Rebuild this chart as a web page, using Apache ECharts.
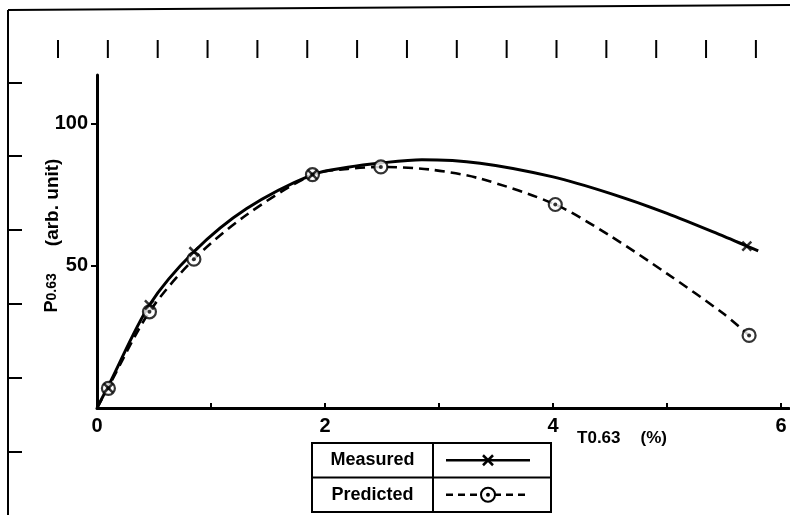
<!DOCTYPE html>
<html>
<head>
<meta charset="utf-8">
<script src="https://cdn.jsdelivr.net/npm/echarts@6/dist/echarts.min.js"></script>
<style>
  html, body { margin: 0; padding: 0; background: #fff; }
  #chart { width: 790px; height: 515px; }
</style>
</head>
<body>
<div id="chart"></div>
<script>
// Measured points (x marks) and the measured fitted curve
const measuredPoints = [[0.10, 7.0], [0.46, 36.2], [0.85, 54.9], [1.89, 82.0], [5.70, 56.9]];
const measuredCurve = [
  [0, 0], [0.10, 7.8], [0.46, 36.2], [0.85, 54.9], [1.31, 70.0],
  [1.89, 82.0], [2.20, 84.6], [2.49, 86.1], [2.85, 87.2], [3.36, 86.0], [4.00, 81.2], [4.50, 75.4],
  [5.00, 68.4], [5.50, 60.3], [5.70, 56.9], [5.80, 55.2]
];
// Predicted points (dotted circles) and the predicted curve
const predictedPoints = [[0.10, 6.9], [0.46, 33.8], [0.85, 52.3], [1.89, 82.0], [2.49, 84.7], [4.02, 71.5], [5.72, 25.5]];
const predictedCurve = [
  [0, 0], [0.10, 7.4], [0.46, 33.8], [0.85, 52.3], [1.31, 67.8],
  [1.89, 82.0], [2.20, 84.0], [2.49, 84.7], [2.92, 83.8], [3.36, 80.6], [4.02, 71.5], [4.50, 60.5],
  [5.00, 47.2], [5.50, 33.0], [5.72, 25.5]
];
// Axis ticks and labels
const xTickValues = [1, 2, 3, 4, 5, 6];
const xLabelValues = [0, 2, 4, 6];
const yTickValues = [50, 100];
const yLabelValues = [50, 100];
const legendRows = ['Measured', 'Predicted'];

const FONT = '"Liberation Sans", Arial, sans-serif';
const INK = '#000';

const chart = echarts.init(document.getElementById('chart'), null, { renderer: 'canvas' });

// Frame lines and tick rows around the plot
const frame = [];
frame.push({ type: 'line', shape: { x1: 8, y1: 10, x2: 790, y2: 5 }, style: { stroke: INK, lineWidth: 2 } });
frame.push({ type: 'line', shape: { x1: 8, y1: 10, x2: 8, y2: 515 }, style: { stroke: INK, lineWidth: 2 } });
for (let i = 0; i < 15; i++) {
  const x = 58 + i * 49.85;
  frame.push({ type: 'line', shape: { x1: x, y1: 40, x2: x, y2: 58 }, style: { stroke: INK, lineWidth: 2 } });
}
[83, 156, 230, 304, 378, 452].forEach(y => {
  frame.push({ type: 'line', shape: { x1: 8, y1: y, x2: 22, y2: y }, style: { stroke: INK, lineWidth: 2 } });
});

// Legend table
const LX = 312, LY = 443, LW = 239, LH = 69, DIV = 433;
const legend = [
  { type: 'rect', shape: { x: LX, y: LY, width: LW, height: LH }, style: { fill: '#fff', stroke: INK, lineWidth: 2 } },
  { type: 'line', shape: { x1: LX, y1: LY + LH / 2, x2: LX + LW, y2: LY + LH / 2 }, style: { stroke: INK, lineWidth: 2 } },
  { type: 'line', shape: { x1: DIV, y1: LY, x2: DIV, y2: LY + LH }, style: { stroke: INK, lineWidth: 2 } }
];
legendRows.forEach((name, i) => {
  const cy = LY + LH / 4 + i * LH / 2;
  legend.push({ type: 'text', x: (LX + DIV) / 2, y: cy, style: { text: name, font: 'bold 18px ' + FONT, fill: INK, align: 'center', verticalAlign: 'middle' } });
  const dashed = i === 1;
  legend.push({ type: 'line', shape: { x1: 446, y1: cy, x2: 530, y2: cy }, style: { stroke: INK, lineWidth: 2.5, lineDash: dashed ? [7, 5] : null } });
  if (!dashed) {
    legend.push({ type: 'line', shape: { x1: 483, y1: cy - 5, x2: 493, y2: cy + 5 }, style: { stroke: INK, lineWidth: 2.5 } });
    legend.push({ type: 'line', shape: { x1: 493, y1: cy - 5, x2: 483, y2: cy + 5 }, style: { stroke: INK, lineWidth: 2.5 } });
  } else {
    legend.push({ type: 'circle', shape: { cx: 488, cy: cy, r: 7 }, style: { fill: '#fff', stroke: INK, lineWidth: 2 } });
    legend.push({ type: 'circle', shape: { cx: 488, cy: cy, r: 2 }, style: { fill: INK } });
  }
});

const crossPath = 'path://M0,0L10,10M10,0L0,10';

chart.setOption({
  backgroundColor: '#fff',
  animation: false,
  grid: { left: 97, right: 1, top: 75, bottom: 107 },
  xAxis: {
    type: 'value',
    min: 0,
    max: 6.07,
    interval: 1,
    splitLine: { show: false },
    axisLine: { show: true, lineStyle: { color: INK, width: 3 } },
    axisTick: { show: true, inside: true, length: 5, customValues: xTickValues, lineStyle: { color: INK, width: 2 } },
    axisLabel: {
      customValues: xLabelValues,
      margin: 8,
      color: INK,
      fontFamily: FONT,
      fontWeight: 'bold',
      fontSize: 20
    },
    name: '{t|T}{s|0.63}{t|(%)}',
    nameLocation: 'middle',
    nameGap: 22,
    nameMoveOverlap: false,
    nameTextStyle: {
      padding: [0, 0, 0, 358],
      rich: {
        t: { fontFamily: FONT, fontWeight: 'bold', fontSize: 17, color: INK },
        s: { fontFamily: FONT, fontWeight: 'bold', fontSize: 17, color: INK, padding: [0, 20, 0, 0] }
      }
    }
  },
  yAxis: {
    type: 'value',
    min: 0,
    max: 117,
    interval: 50,
    splitLine: { show: false },
    axisLine: { show: true, lineStyle: { color: INK, width: 3 } },
    axisTick: { show: true, inside: false, length: 6, customValues: yTickValues, lineStyle: { color: INK, width: 2 } },
    axisLabel: {
      customValues: yLabelValues,
      margin: 9,
      color: INK,
      fontFamily: FONT,
      fontWeight: 'bold',
      fontSize: 20
    },
    name: '{t|P}{s|0.63}{u|(arb. unit)}',
    nameLocation: 'middle',
    nameRotate: 90,
    nameGap: 35,
    nameMoveOverlap: false,
    nameTextStyle: {
      padding: [0, 0, 0, 12],
      rich: {
        t: { fontFamily: FONT, fontWeight: 'bold', fontSize: 18, color: INK },
        s: { fontFamily: FONT, fontWeight: 'bold', fontSize: 14, color: INK, padding: [0, 27, 0, 0] },
        u: { fontFamily: FONT, fontWeight: 'bold', fontSize: 19, color: INK }
      }
    }
  },
  series: [
    {
      name: 'Measured curve',
      type: 'line',
      data: measuredCurve,
      smooth: 0.3,
      showSymbol: false,
      lineStyle: { color: INK, width: 3 },
      z: 2
    },
    {
      name: 'Predicted curve',
      type: 'line',
      data: predictedCurve,
      smooth: 0.3,
      showSymbol: false,
      lineStyle: { color: INK, width: 2.6, type: [10, 6] },
      z: 2
    },
    {
      name: 'Predicted',
      type: 'scatter',
      data: predictedPoints,
      symbol: 'circle',
      symbolSize: 13,
      itemStyle: { color: '#fff', borderColor: INK, borderWidth: 2.2 },
      z: 3
    },
    {
      name: 'Predicted centre',
      type: 'scatter',
      data: predictedPoints,
      symbol: 'circle',
      symbolSize: 4,
      itemStyle: { color: INK },
      z: 4
    },
    {
      name: 'Measured',
      type: 'scatter',
      data: measuredPoints,
      symbol: crossPath,
      symbolSize: 9,
      itemStyle: { color: INK, borderColor: INK, borderWidth: 2.5 },
      z: 5
    }
  ],
  graphic: frame.concat(legend)
});
</script>
</body>
</html>
